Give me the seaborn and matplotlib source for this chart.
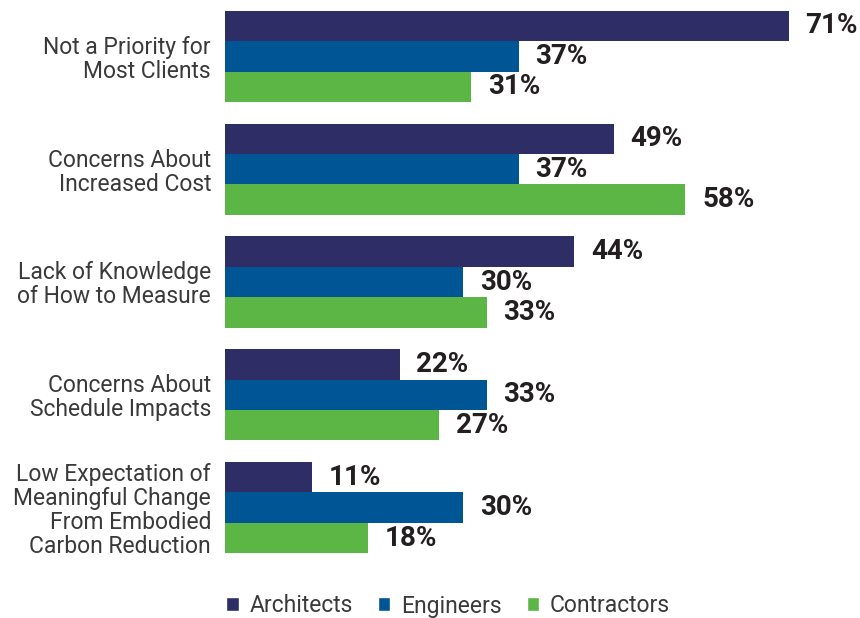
import pandas as pd
import matplotlib.pyplot as plt
import seaborn as sns
from matplotlib.patches import Patch

# Data
categories = [
    'Not a Priority for\nMost Clients',
    'Concerns About\nIncreased Cost',
    'Lack of Knowledge\nof How to Measure',
    'Concerns About\nSchedule Impacts',
    'Low Expectation of\nMeaningful Change\nFrom Embodied\nCarbon Reduction',
]
groups = ['Architects', 'Engineers', 'Contractors']
architects = [71, 49, 44, 22, 11]
engineers = [37, 37, 30, 33, 30]
contractors = [31, 58, 33, 27, 18]
colors = ['#2e2d66', '#005595', '#5cb646']

rows = []
for g, vals in zip(groups, [architects, engineers, contractors]):
    for c, v in zip(categories, vals):
        rows.append({'Category': c, 'Group': g, 'Value': v})
df = pd.DataFrame(rows)

sns.set_style('white')
plt.rcParams['font.family'] = ['Roboto', 'DejaVu Sans']

fig = plt.figure(figsize=(8.6, 6.18), dpi=100)
ax = fig.add_axes([225 / 860, 1 - 564 / 618, 1 - 225 / 860, 564 / 618])

sns.barplot(data=df, y='Category', x='Value', hue='Group', orient='h',
            palette=colors, width=0.81, gap=0, dodge=True, linewidth=0,
            saturation=1, legend=False, ax=ax)

for cont in ax.containers:
    ax.bar_label(cont, labels=[f'{int(v)}%' for v in cont.datavalues],
                 padding=12, fontsize=20, fontweight='bold', color='#231f20')

ax.set_xlim(0, 80)
ax.set_ylim(4.5, -0.5)
ax.set_xlabel('')
ax.set_ylabel('')
ax.set_xticks([])
ax.tick_params(axis='y', length=0, pad=10, labelsize=16.5, labelcolor='#3a3a3a')
for lbl in ax.get_yticklabels():
    lbl.set_linespacing(1.05)
sns.despine(ax=ax, left=True, bottom=True)

handles = [Patch(facecolor=c, label=g) for g, c in zip(groups, colors)]
fig.legend(handles=handles, loc='center', bbox_to_anchor=(448 / 860, 1 - 606 / 618),
           ncol=3, frameon=False, fontsize=16.5, handlelength=0.55, handleheight=0.55,
           handletextpad=0.45, columnspacing=1.1, labelcolor='#3a3a3a')

fig.savefig('out.png', dpi=100)
